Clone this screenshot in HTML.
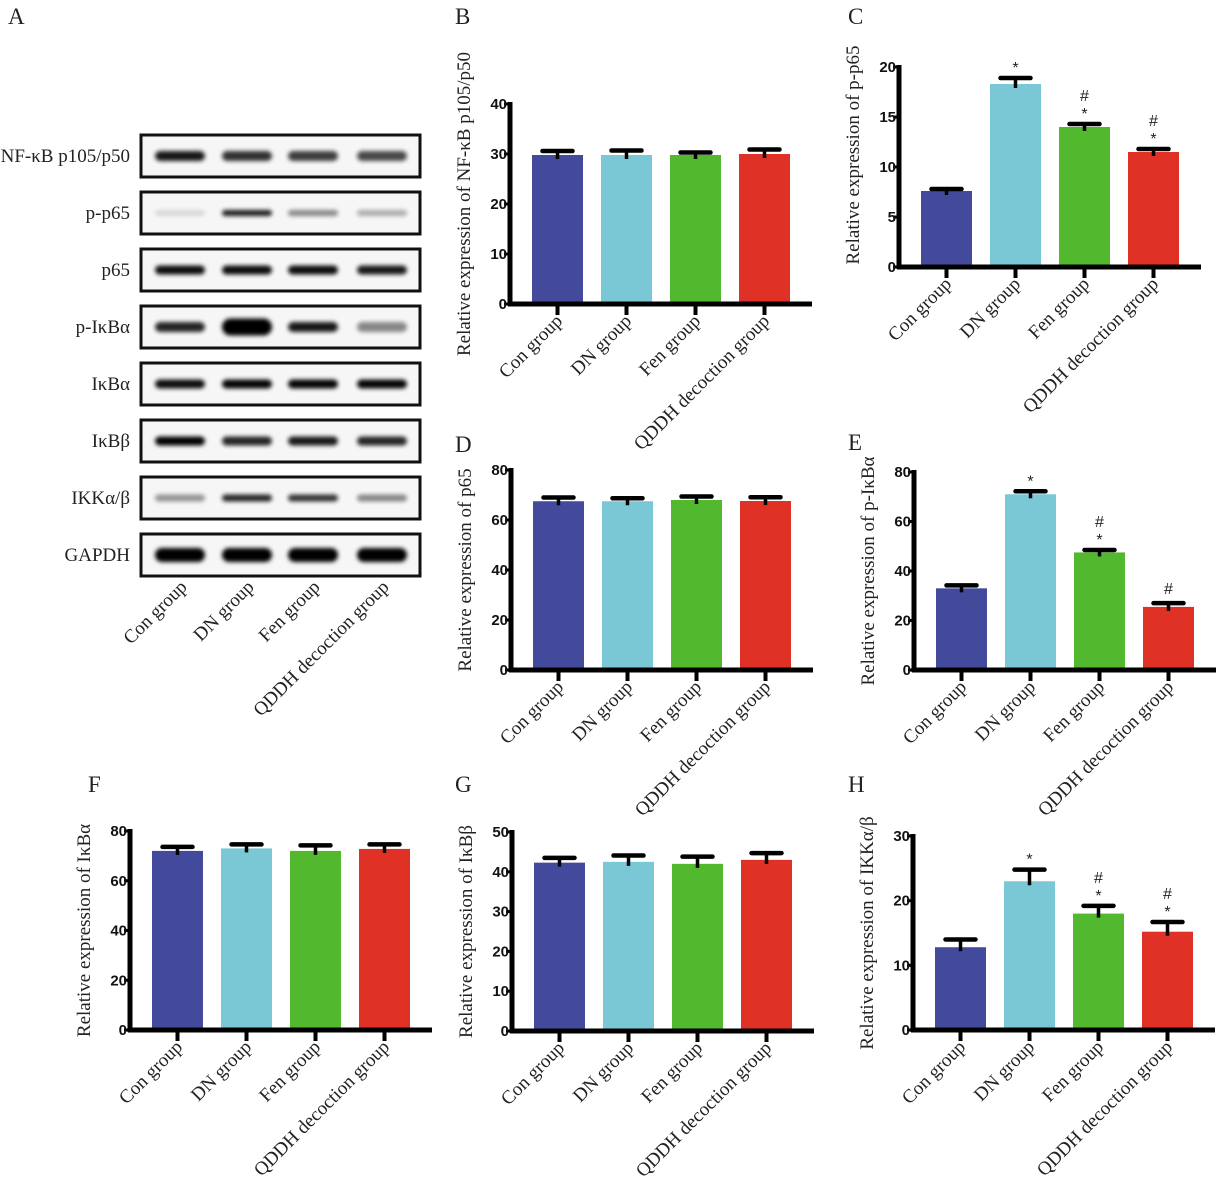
<!DOCTYPE html>
<html><head><meta charset="utf-8">
<style>
html,body{margin:0;padding:0;background:#fff;}
svg{display:block;}
.tl{font-family:"Liberation Serif",serif;font-size:19px;fill:#222;}
.tk{font-family:"Liberation Sans",sans-serif;font-weight:bold;font-size:15px;fill:#111;}
.pl{font-family:"Liberation Serif",serif;font-size:23px;fill:#222;}
.an{font-family:"Liberation Sans",sans-serif;font-size:16px;fill:#222;}
</style></head>
<body>
<svg id="fig" width="1225" height="1182" viewBox="0 0 1225 1182" xmlns="http://www.w3.org/2000/svg">
<defs><filter id="blur" x="-20%" y="-100%" width="140%" height="300%"><feGaussianBlur stdDeviation="2.2"/></filter></defs>
</svg>
<script>
const NS='http://www.w3.org/2000/svg';
const svg=document.getElementById('fig');
function mk(tag,attrs,parent){const e=document.createElementNS(NS,tag);for(const k in attrs)e.setAttribute(k,attrs[k]);(parent||svg).appendChild(e);return e;}

const categories=['Con group','DN group','Fen group','QDDH decoction group'];
const colors=['#434a9b','#7ac8d6','#52b82e','#e03127'];

const valsB=[29.8,29.8,29.8,30.0]; const errB=[0.8,0.9,0.5,0.9]; const ticksB=[0,10,20,30,40];
const valsC=[7.6,18.3,14.0,11.5]; const errC=[0.2,0.6,0.3,0.3]; const ticksC=[0,5,10,15,20];
const valsD=[67.5,67.5,68.0,67.6]; const errD=[1.5,1.2,1.4,1.5]; const ticksD=[0,20,40,60,80];
const valsE=[33,71,47.5,25.5]; const errE=[1.2,1.2,1.0,1.5]; const ticksE=[0,20,40,60,80];
const valsF=[72,73,72,72.8]; const errF=[1.6,1.6,2.2,1.8]; const ticksF=[0,20,40,60,80];
const valsG=[42.3,42.5,42.0,43.0]; const errG=[1.2,1.6,1.8,1.7]; const ticksG=[0,10,20,30,40,50];
const valsH=[12.8,23,18,15.2]; const errH=[1.2,1.8,1.2,1.5]; const ticksH=[0,10,20,30];
const annC=['','*','#*','#*']; const annE=['','*','#*','#']; const annH=['','*','#*','#*'];

function chart(o){
  const g=mk('g',{});
  
  
  const ymax=o.ticks[o.ticks.length-1];
  const y=v=>o.y0-(v/ymax)*(o.y0-o.ytop);
  const bx=i=>o.ax+22+i*69;
  const bw=51;
  o.vals.forEach((v,i)=>{
    const r=mk('rect',{x:bx(i),y:y(v),width:bw,height:o.y0-y(v),fill:colors[i]},g);
    
    
    const cx=bx(i)+bw/2, ty=y(v+o.err[i]);
    const eb=mk('g',{},g);
    
    
    mk('line',{x1:cx,x2:cx,y1:ty,y2:y(v)+4,stroke:'#000','stroke-width':3.5},eb);
    mk('line',{x1:cx-15,x2:cx+15,y1:ty,y2:ty,stroke:'#000','stroke-width':4.5,'stroke-linecap':'round'},eb);
    if(o.ann && o.ann[i]){
      const a=o.ann[i]; let yy=ty-9;
      if(a.includes('*')){const t=mk('text',{x:cx,y:yy+4,'text-anchor':'middle',class:'an'},g);t.textContent='*';yy-=17;}
      if(a.includes('#')){const t=mk('text',{x:cx,y:yy+(a.includes('*')?3:0),'text-anchor':'middle',class:'an','font-size':'18'},g);t.textContent='#';}
    }
    mk('line',{x1:cx,x2:cx,y1:o.y0,y2:o.y0+11,stroke:'#000','stroke-width':4},g);
    const lab=mk('text',{x:cx+6,y:o.y0+18,'text-anchor':'end',class:'tl',transform:`rotate(-45 ${cx+6} ${o.y0+18})`},g);
    lab.textContent=categories[i];
    
    
  });
  mk('line',{x1:o.ax,x2:o.ax,y1:o.ytop-2,y2:o.y0+2,stroke:'#000','stroke-width':5},g);
  mk('line',{x1:o.ax-2,x2:o.ax+302,y1:o.y0,y2:o.y0,stroke:'#000','stroke-width':5},g);
  o.ticks.forEach(t=>{
    mk('line',{x1:o.ax-6,x2:o.ax,y1:y(t),y2:y(t),stroke:'#000','stroke-width':3},g);
    const tx=mk('text',{x:o.ax-3,y:y(t)+5,'text-anchor':'end',class:'tk'},g);
    tx.textContent=t;
    
    
  });
  const tx=o.ax-40, ty=(o.ytop+o.y0)/2+o.tdy;
  const tt=mk('text',{x:tx,y:ty,'text-anchor':'middle',class:'tl','font-size':'20',transform:`rotate(-90 ${tx} ${ty})`},g);
  tt.textContent=o.title;
  
  
  const pl=mk('text',{x:o.lx,y:o.ly,class:'pl'},g);
  pl.textContent=o.id;
  
  
}

chart({id:'B',ax:510,y0:304,ytop:104,vals:valsB,err:errB,ticks:ticksB,title:'Relative expression of NF-κB p105/p50',tdy:0,lx:455,ly:24});
chart({id:'C',ax:899,y0:267,ytop:67,vals:valsC,err:errC,ticks:ticksC,title:'Relative expression of p-p65',ann:annC,tdy:-12,lx:848,ly:24});
chart({id:'D',ax:511,y0:670,ytop:470,vals:valsD,err:errD,ticks:ticksD,title:'Relative expression of p65',tdy:0,lx:455,ly:452});
chart({id:'E',ax:914,y0:670,ytop:472,vals:valsE,err:errE,ticks:ticksE,title:'Relative expression of p-IκBα',ann:annE,tdy:0,lx:848,ly:450});
chart({id:'F',ax:130,y0:1030,ytop:831,vals:valsF,err:errF,ticks:ticksF,title:'Relative expression of IκBα',tdy:0,lx:88,ly:792});
chart({id:'G',ax:512,y0:1031,ytop:832,vals:valsG,err:errG,ticks:ticksG,title:'Relative expression of IκBβ',tdy:0,lx:455,ly:792});
chart({id:'H',ax:913,y0:1030,ytop:836,vals:valsH,err:errH,ticks:ticksH,title:'Relative expression of IKKα/β',ann:annH,tdy:0,lx:848,ly:792});

const blotLabels=['NF-κB p105/p50','p-p65','p65','p-IκBα','IκBα','IκBβ','IKKα/β','GAPDH'];
const blotTops=[135,192,249,306,363,420,477,534];
const bandIntensity=[[0.9,0.8,0.75,0.7],[0.12,0.9,0.45,0.3],[0.95,0.95,0.95,0.9],[0.85,1,0.9,0.45],[0.95,0.98,0.98,0.98],[1,0.85,0.9,0.85],[0.4,0.85,0.8,0.45],[1,1,1,1]];
const bandHeight=[10,6,9,10,9,9,7,14];
const laneX=[180,247,313,382];
const gA=mk('g',{});


const pa=mk('text',{x:8,y:24,class:'pl'},gA);pa.textContent='A';


blotLabels.forEach((l,r)=>{
  const top=blotTops[r];
  const row=mk('g',{},gA);
  
  
  mk('rect',{x:141,y:top,width:279,height:42,fill:'#f6f6f6',stroke:'#111','stroke-width':3},row);
  bandIntensity[r].forEach((v,i)=>{
    const h=(r===3&&i===1)?17:bandHeight[r];
    mk('rect',{x:laneX[i]-25,y:top+21-h/2,width:50,height:h,rx:h/2,fill:'#000',opacity:v,filter:'url(#blur)'},row);
  });
  const t=mk('text',{x:130,y:top+27,'text-anchor':'end',class:'tl'},row);
  t.textContent=l;
  
  
});
categories.forEach((c,i)=>{
  const x=laneX[i]+8,yy=588;
  const t=mk('text',{x:x,y:yy,'text-anchor':'end',class:'tl',transform:`rotate(-45 ${x} ${yy})`},gA);
  t.textContent=c;
  
  
});
</script>
</body></html>
